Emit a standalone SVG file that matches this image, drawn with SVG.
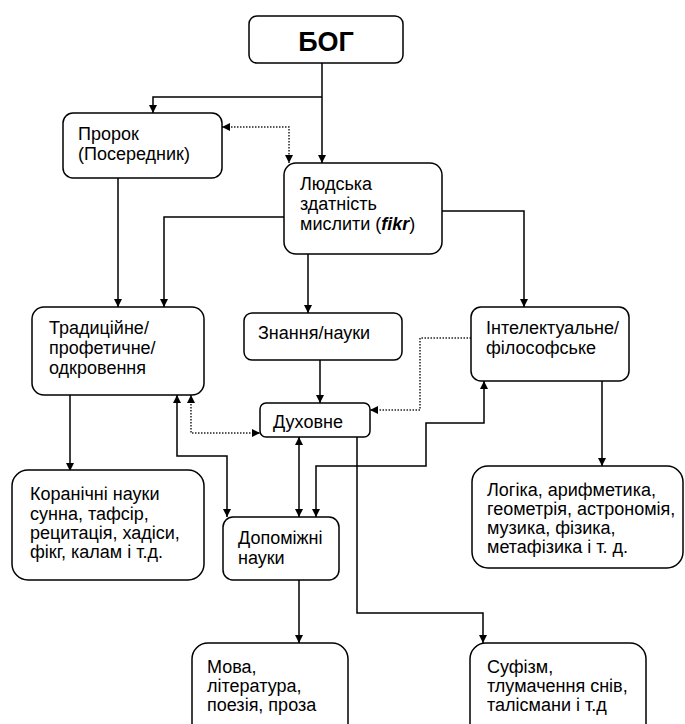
<svg xmlns="http://www.w3.org/2000/svg" width="685" height="724" viewBox="0 0 685 724">
<style>
  .box { fill: #ffffff; stroke: #000000; stroke-width: 1.5; }
  .t { font-family: "Liberation Sans", Arial, sans-serif; font-size: 18px; fill: #000000; }
  .title { font-family: "Liberation Sans", Arial, sans-serif; font-size: 27px; font-weight: bold; fill: #000000; }
  .c { fill: none; stroke: #000000; stroke-width: 1.5; }
  .d { fill: none; stroke: #222222; stroke-width: 1.5; stroke-dasharray: 1.5 1.5; }
</style>
<defs>
  <marker id="ah" viewBox="0 0 10 10" refX="10" refY="5" markerWidth="8" markerHeight="8" markerUnits="userSpaceOnUse" orient="auto-start-reverse">
    <path d="M0,0 L10,5 L0,10 z" fill="#000000"/>
  </marker>
</defs>
<rect width="685" height="724" fill="#ffffff"/>

<g id="connectors">
  <path class="c" d="M322,63 V163" marker-end="url(#ah)"/>
  <path class="c" d="M322,97 H153 V113" marker-end="url(#ah)"/>
  <path class="d" d="M222,127 H289 V163" marker-start="url(#ah)" marker-end="url(#ah)"/>
  <path class="c" d="M118,178 V307" marker-end="url(#ah)"/>
  <path class="c" d="M284,217 H164 V307" marker-end="url(#ah)"/>
  <path class="c" d="M442,211 H524 V307" marker-end="url(#ah)"/>
  <path class="c" d="M308,254 V313" marker-end="url(#ah)"/>
  <path class="c" d="M320,360 V403" marker-end="url(#ah)"/>
  <path class="d" d="M471,338 H420 V410 H370" marker-end="url(#ah)"/>
  <path class="d" d="M191,395 V433 H260" marker-start="url(#ah)" marker-end="url(#ah)"/>
  <path class="c" d="M177,395 V456 H227 V517" marker-start="url(#ah)" marker-end="url(#ah)"/>
  <path class="c" d="M299,437 V517" marker-start="url(#ah)" marker-end="url(#ah)"/>
  <path class="c" d="M316,517 V466 H426 V423 H484 V381" marker-start="url(#ah)" marker-end="url(#ah)"/>
  <path class="c" d="M357,437 V613 H483 V643" marker-end="url(#ah)"/>
  <path class="c" d="M299,580 V643" marker-end="url(#ah)"/>
  <path class="c" d="M70,395 V471" marker-end="url(#ah)"/>
  <path class="c" d="M602,381 V466" marker-end="url(#ah)"/>
</g>

<g id="bog">
  <rect class="box" x="249" y="16" width="154" height="47" rx="8"/>
  <text class="title" x="326" y="51" text-anchor="middle">БОГ</text>
</g>
<g id="prorok">
  <rect class="box" x="63" y="113" width="159" height="65" rx="10"/>
  <text class="t" x="78" y="140">Пророк</text>
  <text class="t" x="78" y="160">(Посередник)</text>
</g>
<g id="fikr">
  <rect class="box" x="284" y="163" width="158" height="91" rx="12"/>
  <text class="t" x="300" y="190">Людська</text>
  <text class="t" x="300" y="210">здатність</text>
  <text class="t" x="300" y="230">мислити (<tspan font-weight="bold" font-style="italic">fikr</tspan>)</text>
</g>
<g id="tradytsiine">
  <rect class="box" x="32" y="307" width="172" height="88" rx="12"/>
  <text class="t" x="49" y="334">Традиційне/</text>
  <text class="t" x="49" y="354">профетичне/</text>
  <text class="t" x="49" y="374">одкровення</text>
</g>
<g id="znannia">
  <rect class="box" x="244" y="313" width="158" height="47" rx="8"/>
  <text class="t" x="258" y="339">Знання/науки</text>
</g>
<g id="intelektualne">
  <rect class="box" x="471" y="307" width="158" height="74" rx="10"/>
  <text class="t" x="486" y="334">Інтелектуальне/</text>
  <text class="t" x="486" y="354">філософське</text>
</g>
<g id="dukhovne">
  <rect class="box" x="260" y="403" width="110" height="34" rx="6"/>
  <text class="t" x="273" y="428">Духовне</text>
</g>
<g id="koranichni">
  <rect class="box" x="12" y="470" width="192" height="110" rx="16"/>
  <text class="t" x="30" y="500">Коранічні науки</text>
  <text class="t" x="30" y="520">сунна, тафсір,</text>
  <text class="t" x="30" y="539">рецитація, хадіси,</text>
  <text class="t" x="30" y="558">фікг, калам і т.д.</text>
</g>
<g id="dopomizhni">
  <rect class="box" x="223" y="517" width="116" height="63" rx="10"/>
  <text class="t" x="238" y="544">Допоміжні</text>
  <text class="t" x="238" y="564">науки</text>
</g>
<g id="logika">
  <rect class="box" x="472" y="466" width="211" height="102" rx="16"/>
  <text class="t" x="487" y="496">Логіка, арифметика,</text>
  <text class="t" x="487" y="515">геометрія, астрономія,</text>
  <text class="t" x="487" y="534">музика, фізика,</text>
  <text class="t" x="487" y="553">метафізика і т. д.</text>
</g>
<g id="mova">
  <rect class="box" x="192" y="643" width="156" height="100" rx="16"/>
  <text class="t" x="207" y="673">Мова,</text>
  <text class="t" x="207" y="692">література,</text>
  <text class="t" x="207" y="711">поезія, проза</text>
</g>
<g id="sufizm">
  <rect class="box" x="470" y="643" width="176" height="100" rx="16"/>
  <text class="t" x="487" y="673">Суфізм,</text>
  <text class="t" x="487" y="692">тлумачення снів,</text>
  <text class="t" x="487" y="711">талісмани і т.д</text>
</g>
</svg>
